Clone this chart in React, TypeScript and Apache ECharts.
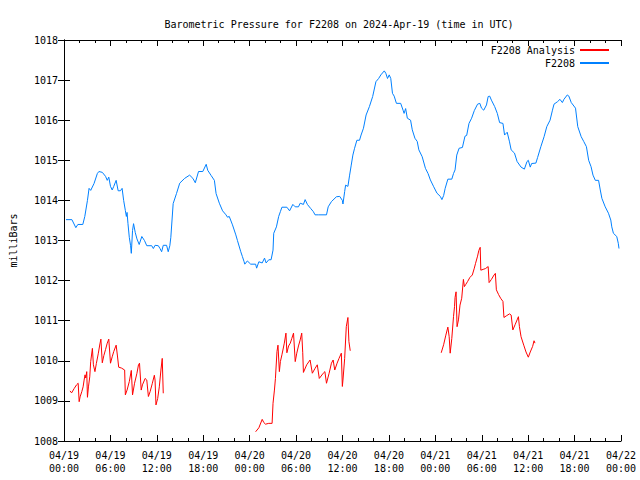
import { useEffect, useRef } from "react";
import * as echarts from "echarts";

// ---- chart texts ----
const chartTitle = "Barometric Pressure for F2208 on 2024-Apr-19 (time in UTC)";
const yAxisTitle = "milliBars";
const stationName = "F2208";
const analysisName = "F2208 Analysis";

// ---- axes ----
const monthLabel = "04";
const startDay = 19;
const xMinHours = 0;
const xMaxHours = 72;
const xStepHours = 6;
const yMin = 1008;
const yMax = 1018;
const yStep = 1;

// ---- F2208 observed pressure (hours since 04/19 00:00 UTC, mbar) ----
const stationHours = [
  0.26, 1.02, 1.53, 1.79, 2.43, 2.69, 3.03, 3.24, 3.45, 3.88, 4.31, 4.51, 4.95, 5.37, 5.59, 5.79,
  6.01, 6.23, 6.43, 6.74, 7.0, 7.29, 7.51, 7.71, 7.93, 8.06, 8.15, 8.27, 8.44, 8.61, 8.7, 8.86,
  8.99, 9.21, 9.43, 9.72, 10.06, 10.4, 10.7, 11.34, 11.55, 11.77, 12.19, 12.41, 12.62, 12.83,
  13.26, 13.47, 13.68, 13.81, 14.11, 14.54, 14.96, 15.6, 16.24, 16.66, 16.97, 17.39, 17.94, 18.38,
  18.58, 19.02, 19.44, 19.66, 20.08, 20.5, 20.94, 21.14, 21.36, 21.78, 22.21, 22.42, 22.85, 23.06,
  23.28, 23.37, 23.7, 24.13, 24.77, 24.9, 25.19, 25.62, 25.92, 26.13, 26.47, 26.77, 27.02, 27.11,
  27.46, 27.75, 27.97, 28.17, 28.81, 29.16, 29.58, 29.89, 30.31, 30.53, 30.95, 31.17, 31.46, 31.88,
  32.23, 32.45, 32.87, 33.93, 34.15, 34.57, 35.21, 35.64, 35.98, 36.06, 36.28, 36.4, 36.7, 36.92,
  37.13, 37.34, 37.56, 37.86, 38.2, 38.4, 38.71, 39.05, 39.48, 39.9, 40.32, 40.67, 40.96, 41.4,
  41.6, 41.82, 42.04, 42.24, 42.46, 42.68, 42.97, 43.52, 43.83, 43.96, 44.16, 44.38, 44.8, 45.02,
  45.36, 45.66, 45.87, 46.3, 46.72, 47.06, 47.36, 47.79, 48.21, 48.64, 48.85, 49.07, 49.27, 49.62,
  50.13, 50.35, 50.55, 50.77, 51.07, 51.5, 51.83, 52.05, 52.35, 52.69, 53.04, 53.46, 53.75, 53.97,
  54.26, 54.61, 54.83, 55.03, 55.25, 55.67, 56.01, 56.31, 56.74, 56.95, 57.29, 57.59, 57.8, 58.23,
  58.57, 59.08, 59.51, 59.85, 60.02, 60.27, 60.45, 61.0, 61.22, 61.64, 62.06, 62.41, 62.83, 63.14,
  63.34, 63.78, 64.11, 64.42, 64.62, 65.06, 65.26, 65.57, 66.12, 66.41, 66.85, 67.18, 67.53, 67.82,
  68.13, 68.38, 68.68, 69.1, 69.32, 69.53, 69.96, 70.38, 70.68, 70.81, 71.02, 71.45, 71.65, 71.74,
];
const stationValues = [
  1013.52, 1013.52, 1013.32, 1013.4, 1013.4, 1013.6, 1014.0, 1014.3, 1014.25, 1014.42, 1014.67, 1014.72, 1014.7, 1014.6, 1014.5, 1014.58,
  1014.35, 1014.26, 1014.35, 1014.5, 1014.24, 1014.24, 1014.3, 1014.0, 1013.75, 1013.6, 1013.7, 1013.42, 1013.08, 1012.87, 1012.68, 1013.25,
  1013.42, 1013.2, 1013.04, 1012.9, 1013.1, 1013.0, 1012.87, 1012.87, 1012.8, 1012.88, 1012.87, 1012.8, 1012.72, 1012.88,
  1012.88, 1012.72, 1012.87, 1013.08, 1013.92, 1014.17, 1014.43, 1014.55, 1014.63, 1014.55, 1014.44, 1014.72, 1014.72, 1014.9,
  1014.75, 1014.62, 1014.5, 1014.17, 1013.93, 1013.74, 1013.64, 1013.58, 1013.6, 1013.39, 1013.14, 1013.0, 1012.72, 1012.6,
  1012.47, 1012.41, 1012.49, 1012.41, 1012.41, 1012.31, 1012.47, 1012.44, 1012.56, 1012.44, 1012.52, 1012.52, 1012.76, 1013.18,
  1013.34, 1013.6, 1013.72, 1013.83, 1013.83, 1013.74, 1013.9, 1013.84, 1013.84, 1013.93, 1013.9, 1014.02, 1013.9, 1013.8,
  1013.72, 1013.64, 1013.64, 1013.64, 1013.84, 1013.97, 1014.09, 1014.1, 1014.0, 1013.91, 1014.22, 1014.38, 1014.35, 1014.63,
  1014.88, 1015.13, 1015.3, 1015.5, 1015.5, 1015.63, 1015.8, 1016.13, 1016.34, 1016.59, 1016.96, 1017.04, 1017.13, 1017.23,
  1017.17, 1017.04, 1017.13, 1017.04, 1016.67, 1016.6, 1016.42, 1016.42, 1016.25, 1016.17, 1016.29, 1016.05, 1016.0, 1015.76,
  1015.55, 1015.47, 1015.26, 1015.09, 1014.8, 1014.67, 1014.51, 1014.34, 1014.18, 1014.1, 1014.02, 1014.12, 1014.3, 1014.53,
  1014.53, 1014.67, 1014.76, 1015.13, 1015.3, 1015.32, 1015.6, 1015.62, 1015.92, 1016.05, 1016.24, 1016.4, 1016.42, 1016.3,
  1016.25, 1016.38, 1016.59, 1016.6, 1016.5, 1016.34, 1016.17, 1015.94, 1015.92, 1015.63, 1015.7, 1015.46, 1015.26, 1015.18,
  1014.97, 1014.83, 1014.78, 1014.97, 1015.0, 1014.83, 1014.92, 1014.93, 1015.07, 1015.34, 1015.59, 1015.84, 1016.0, 1016.25,
  1016.4, 1016.46, 1016.52, 1016.44, 1016.52, 1016.63, 1016.6, 1016.44, 1016.3, 1015.84, 1015.59, 1015.47, 1015.34, 1015.0,
  1014.84, 1014.63, 1014.5, 1014.5, 1014.26, 1014.05, 1013.84, 1013.68, 1013.51, 1013.34, 1013.18, 1013.1, 1012.93, 1012.8,
];

// ---- F2208 Analysis (three separate runs, with gaps between) ----
const analysisRun1Hours = [
  0.77, 0.98, 1.32, 1.62, 1.83, 1.96, 2.08, 2.3, 2.47, 2.6, 2.72, 2.81, 2.94, 3.03, 3.16, 3.33,
  3.45, 3.67, 3.8, 4.0, 4.18, 4.44, 4.64, 4.77, 4.95, 5.15, 5.37, 5.59, 5.79, 6.01, 6.23, 6.43,
  6.74, 6.91, 7.07, 7.42, 7.84, 7.93, 8.15, 8.44, 8.7, 8.86, 9.12, 9.43, 9.63, 9.76, 9.98, 10.14,
  10.49, 10.7, 10.91, 11.13, 11.42, 11.68, 11.77, 11.89, 12.11, 12.32, 12.53, 12.7, 12.83,
];
const analysisRun1Values = [
  1009.25, 1009.2, 1009.31, 1009.4, 1009.44, 1008.98, 1009.1, 1009.23, 1009.35, 1009.52, 1009.65, 1009.57, 1009.73, 1009.09, 1009.35, 1009.6,
  1009.98, 1010.31, 1009.9, 1009.73, 1009.93, 1010.19, 1010.42, 1010.54, 1009.95, 1010.13, 1010.28, 1010.44, 1010.54, 1009.94, 1010.1, 1010.23,
  1010.39, 1010.12, 1009.84, 1009.82, 1009.77, 1009.15, 1009.27, 1009.48, 1009.76, 1009.15, 1009.44, 1009.69, 1009.9, 1009.94, 1009.27, 1009.4,
  1009.56, 1009.52, 1009.11, 1009.23, 1009.44, 1009.64, 1009.52, 1008.9, 1009.06, 1009.35, 1009.77, 1010.06, 1009.19,
];
const analysisRun2Hours = [
  24.77, 25.19, 25.62, 25.83, 26.05, 26.47, 26.9, 27.02, 27.2, 27.33, 27.53, 27.66, 27.84, 27.97, 28.17, 28.48,
  28.69, 28.81, 29.03, 29.25, 29.45, 29.67, 29.89, 30.09, 30.31, 30.53, 30.73, 30.86, 30.95, 31.37, 31.81, 32.1,
  32.45, 32.74, 33.0, 33.51, 33.72, 33.93, 34.27, 34.57, 34.79, 35.0, 35.3, 35.55, 35.85, 35.98, 36.06, 36.28,
  36.49, 36.7, 36.83, 37.0,
];
const analysisRun2Values = [
  1008.23, 1008.33, 1008.54, 1008.46, 1008.42, 1008.44, 1008.44, 1008.94, 1009.27, 1009.56, 1010.23, 1010.39, 1009.73, 1009.98, 1010.15, 1010.44,
  1010.69, 1010.2, 1010.37, 1010.44, 1010.56, 1010.69, 1009.98, 1010.19, 1010.37, 1010.52, 1010.69, 1010.2, 1009.71, 1009.9, 1010.02, 1009.69,
  1009.81, 1009.9, 1009.56, 1009.69, 1009.73, 1009.44, 1009.69, 1009.94, 1010.02, 1009.77, 1009.94, 1010.06, 1010.19, 1009.36, 1009.52, 1010.06,
  1010.85, 1011.08, 1010.48, 1010.25,
];
const analysisRun3Hours = [
  48.76, 49.07, 49.36, 49.62, 49.79, 49.92, 50.13, 50.35, 50.48, 50.55, 50.68, 50.81, 50.99, 51.19, 51.41, 51.63,
  51.76, 51.92, 52.18, 52.47, 52.78, 53.04, 53.2, 53.46, 53.62, 53.8, 53.88, 54.18, 54.48, 54.83, 54.95, 55.25,
  55.59, 55.76, 55.89, 56.18, 56.44, 56.74, 56.87, 57.17, 57.59, 57.8, 58.02, 58.31, 58.57, 58.74, 58.87, 59.08,
  59.43, 59.72, 60.02, 60.27, 60.58, 60.76, 60.88,
];
const analysisRun3Values = [
  1010.2, 1010.4, 1010.64, 1010.84, 1010.6, 1010.19, 1010.56, 1011.1, 1011.35, 1011.58, 1011.72, 1010.85, 1011.02, 1011.39, 1011.56, 1012.03,
  1011.85, 1011.9, 1011.98, 1012.08, 1012.14, 1012.31, 1012.43, 1012.61, 1012.75, 1012.83, 1012.26, 1012.28, 1012.3, 1012.35, 1011.95, 1012.03,
  1012.14, 1012.18, 1011.77, 1011.65, 1011.56, 1011.48, 1011.08, 1011.12, 1011.17, 1011.14, 1010.77, 1010.9, 1011.02, 1011.1, 1010.85, 1010.6,
  1010.39, 1010.22, 1010.09, 1010.22, 1010.36, 1010.5, 1010.44,
];

const stationColor = "#0080ff";
const analysisColor = "#ff0000";
const FONT = "'DejaVu Sans Mono', 'Liberation Mono', monospace";

function pairs(h: number[], v: number[]) {
  return h.map((t, i) => [t, v[i]]);
}

function pad2(n: number) {
  return n < 10 ? "0" + n : String(n);
}

function timeLabel(value: number) {
  const h = Math.round(value);
  const day = startDay + Math.floor(h / 24);
  return `${monthLabel}/${pad2(day)}\n${pad2(h % 24)}:00`;
}

export default function App() {
  const ref = useRef<HTMLDivElement>(null);

  useEffect(() => {
    if (!ref.current) return;
    const chart = echarts.init(ref.current, null, { renderer: "svg" });

    const analysisData: any[] = [
      ...pairs(analysisRun1Hours, analysisRun1Values),
      [18, "-"],
      ...pairs(analysisRun2Hours, analysisRun2Values),
      [42, "-"],
      ...pairs(analysisRun3Hours, analysisRun3Values),
    ];

    const tickCommon = {
      axisLine: { show: true, lineStyle: { color: "#000", width: 1 } },
      splitLine: { show: false },
    };

    chart.setOption({
      animation: false,
      backgroundColor: "#fff",
      textStyle: { fontFamily: FONT },
      title: {
        text: chartTitle,
        left: 334,
        textAlign: "center",
        top: 14,
        textStyle: { fontFamily: FONT, fontSize: 10, fontWeight: "normal", color: "#000" },
      },
      legend: {
        orient: "vertical",
        right: 26,
        top: 40,
        align: "right",
        itemWidth: 29,
        itemHeight: 2,
        itemGap: 3,
        icon: "rect",
        textStyle: { fontFamily: FONT, fontSize: 10, color: "#000" },
        data: [analysisName, stationName],
      },
      grid: { left: 58, right: 19, top: 40, bottom: 39, containLabel: false },
      xAxis: [
        {
          type: "value",
          min: xMinHours,
          max: xMaxHours,
          interval: xStepHours,
          position: "bottom",
          ...tickCommon,
          axisTick: { show: true, inside: true, length: 6, lineStyle: { color: "#000" } },
          minorTick: { show: true, splitNumber: 3, length: 3, lineStyle: { color: "#000" } },
          axisLabel: {
            formatter: timeLabel,
            fontFamily: FONT,
            fontSize: 10,
            color: "#000",
            lineHeight: 13,
            margin: 8,
          },
        },
        {
          type: "value",
          min: xMinHours,
          max: xMaxHours,
          interval: xStepHours,
          position: "top",
          ...tickCommon,
          axisTick: { show: true, inside: true, length: 6, lineStyle: { color: "#000" } },
          minorTick: { show: true, splitNumber: 3, length: 3, lineStyle: { color: "#000" } },
          axisLabel: { show: false },
        },
      ],
      yAxis: [
        {
          type: "value",
          min: yMin,
          max: yMax,
          interval: yStep,
          position: "left",
          ...tickCommon,
          axisTick: { show: true, inside: true, length: 6, lineStyle: { color: "#000" } },
          axisLabel: {
            formatter: (v: number) => String(v),
            fontFamily: FONT,
            fontSize: 10,
            color: "#000",
            margin: 6,
          },
          name: yAxisTitle,
          nameLocation: "middle",
          nameRotate: 90,
          nameGap: 46,
          nameTextStyle: { fontFamily: FONT, fontSize: 10, color: "#000" },
        },
        {
          type: "value",
          min: yMin,
          max: yMax,
          interval: yStep,
          position: "right",
          ...tickCommon,
          axisTick: { show: true, inside: true, length: 6, lineStyle: { color: "#000" } },
          axisLabel: { show: false },
        },
      ],
      series: [
        {
          name: analysisName,
          type: "line",
          xAxisIndex: 0,
          yAxisIndex: 0,
          data: analysisData,
          showSymbol: false,
          symbol: "none",
          connectNulls: false,
          lineStyle: { color: analysisColor, width: 1 },
          itemStyle: { color: analysisColor },
        },
        {
          name: stationName,
          type: "line",
          xAxisIndex: 0,
          yAxisIndex: 0,
          data: pairs(stationHours, stationValues),
          showSymbol: false,
          symbol: "none",
          lineStyle: { color: stationColor, width: 1 },
          itemStyle: { color: stationColor },
        },
      ],
    });

    return () => chart.dispose();
  }, []);

  return <div ref={ref} style={{ width: 640, height: 480, position: "absolute", left: 0, top: 0 }} />;
}
